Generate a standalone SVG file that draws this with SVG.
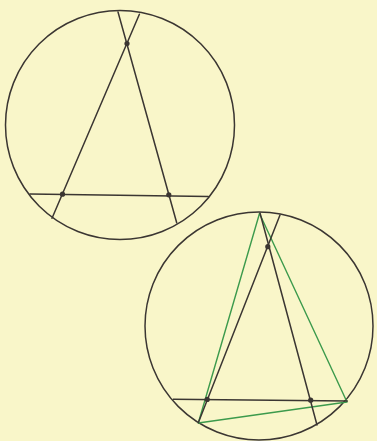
<svg xmlns="http://www.w3.org/2000/svg" width="377" height="441" viewBox="0 0 377 441">
<style>
.k{fill:none;stroke:#3b3632;stroke-width:1.5;stroke-linecap:round}
.g{fill:none;stroke:#3c9a4c;stroke-width:1.4;stroke-linejoin:round}
.d{fill:#3b3632}
</style>
<rect width="377" height="441" fill="#f9f6c9"/>
<g id="fig1">
<circle class="k" cx="120" cy="125" r="114.5"/>
<line class="k" x1="118" y1="12" x2="176.7" y2="222.7"/>
<line class="k" x1="139.4" y1="14.3" x2="52" y2="218.3"/>
<line class="k" x1="30" y1="194" x2="208.3" y2="196.5"/>
<circle class="d" cx="127" cy="43.5" r="2.6"/>
<circle class="d" cx="62.5" cy="194.2" r="2.6"/>
<circle class="d" cx="168.8" cy="194.8" r="2.6"/>
</g>
<g id="fig2">
<circle class="k" cx="259" cy="326" r="114"/>
<polygon class="g" points="259.5,213.5 198.3,423 347,402"/>
<line class="k" x1="260" y1="213" x2="317" y2="425"/>
<line class="k" x1="280" y1="215" x2="198.3" y2="422.7"/>
<line class="k" x1="173.3" y1="399.3" x2="347.3" y2="401"/>
<circle class="d" cx="267.8" cy="246.7" r="2.6"/>
<circle class="d" cx="207.2" cy="399.4" r="2.6"/>
<circle class="d" cx="310.7" cy="400.2" r="2.6"/>
</g>
</svg>
